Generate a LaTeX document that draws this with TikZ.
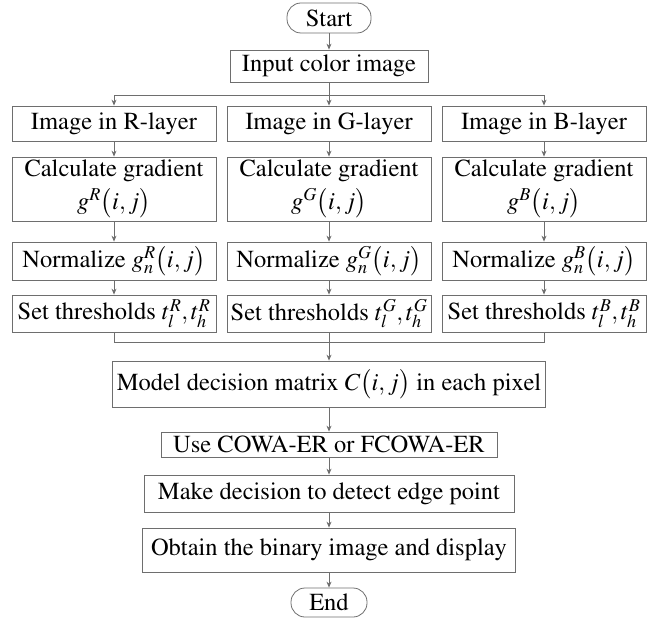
\documentclass[tikz,border=0pt]{standalone}
\usepackage{amsmath}
\usepackage[T1]{fontenc}
\usepackage{mathptmx}
\usepackage{tikz}
\usetikzlibrary{arrows.meta, positioning}
\definecolor{linegray}{RGB}{110,110,110}
\tikzstyle{startstop} = [rectangle, rounded corners=14pt, minimum width=84pt, minimum height=30pt, inner sep=0pt, text centered, draw=linegray]
\tikzstyle{process} = [rectangle, minimum width=204pt, minimum height=36pt, inner sep=2pt, text centered, align=center, draw=linegray]
\tikzstyle{arrow} = [-{Stealth[length=6pt, width=5pt]}, draw=linegray]
\newcommand{\ijpos}{\big(i,j\big)}

\begin{document}
\begin{tikzpicture}[node distance=55pt, line width=0.8pt, font=\fontsize{24.5}{30}\selectfont]
\useasboundingbox (0,0) rectangle (658pt,-620pt);
\node (start) [startstop] at (329pt,-18pt) {Start};
\node (input) [process, minimum width=198pt, minimum height=32pt, below of=start, yshift=7pt] {Input color image};
\node (layerR) [process, minimum height=35pt, below of=input, xshift=-215pt, yshift=-2.5pt] {Image in R-layer};
\node (layerG) [process, minimum height=35pt, below of=input, xshift=0pt, yshift=-2.5pt] {Image in G-layer};
\node (layerB) [process, minimum height=35pt, below of=input, xshift=215pt, yshift=-2.5pt] {Image in B-layer};
\node (gradR) [process, minimum height=64pt, below of=layerR, yshift=-10.5pt] {Calculate gradient\\[3pt] $g^{R}\ijpos$};
\node (gradG) [process, minimum height=64pt, below of=layerG, yshift=-10.5pt] {Calculate gradient\\[3pt] $g^{G}\ijpos$};
\node (gradB) [process, minimum height=64pt, below of=layerB, yshift=-10.5pt] {Calculate gradient\\[3pt] $g^{B}\ijpos$};
\node (normR) [process, minimum height=38pt, below of=gradR, yshift=-17pt] {Normalize $g_{n}^{R}\ijpos$};
\node (normG) [process, minimum height=38pt, below of=gradG, yshift=-17pt] {Normalize $g_{n}^{G}\ijpos$};
\node (normB) [process, minimum height=38pt, below of=gradB, yshift=-17pt] {Normalize $g_{n}^{B}\ijpos$};
\node (thrR) [process, minimum height=37pt, below of=normR, yshift=2.5pt] {Set thresholds $t_{l}^{R},t_{h}^{R}$};
\node (thrG) [process, minimum height=37pt, below of=normG, yshift=2.5pt] {Set thresholds $t_{l}^{G},t_{h}^{G}$};
\node (thrB) [process, minimum height=37pt, below of=normB, yshift=2.5pt] {Set thresholds $t_{l}^{B},t_{h}^{B}$};
\node (model) [process, minimum width=433pt, minimum height=46pt, below of=thrG, yshift=-15.5pt] {Model decision matrix $C\ijpos$ in each pixel};
\node (cowa) [process, minimum width=336pt, minimum height=25pt, inner sep=0pt, below of=model, yshift=-5.5pt] {Use COWA-ER or FCOWA-ER};
\node (decide) [process, minimum width=370pt, minimum height=37pt, below of=cowa, yshift=6pt] {Make decision to detect edge point};
\node (binary) [process, minimum width=373pt, minimum height=44pt, below of=decide, yshift=-1.5pt] {Obtain the binary image and display};
\node (end) [startstop, minimum width=76pt, minimum height=29pt, below of=binary, yshift=2.5pt] {End};

\coordinate[below=13pt of input] (split);
\coordinate[below=10pt of thrG] (merge);

\draw[arrow] (start) -- (input);
\draw[arrow] (input) -- (layerG);
\draw[arrow] (split) -| (layerR);
\draw[arrow] (split) -| (layerB);
\foreach \c in {R,G,B} {
  \draw[arrow] (layer\c) -- (grad\c);
  \draw[arrow] (grad\c) -- (norm\c);
  \draw[arrow] (norm\c) -- (thr\c);
}
\draw[draw=linegray] (thrR) |- (merge) -| (thrB);
\draw[arrow] (thrG) -- (model);
\draw[arrow] (model) -- (cowa);
\draw[arrow] (cowa) -- (decide);
\draw[arrow] (decide) -- (binary);
\draw[arrow] (binary) -- (end);

\end{tikzpicture}
\end{document}
